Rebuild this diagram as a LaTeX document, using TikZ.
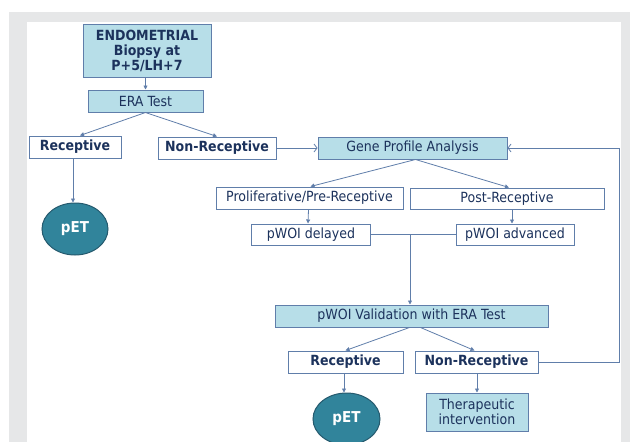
\documentclass[tikz,border=0pt]{standalone}
\usepackage{fontspec}
\setmainfont{DejaVu Sans Condensed}
\usepackage{tikz}
\usetikzlibrary{arrows.meta}
\usetikzlibrary{shapes.geometric}

\definecolor{bggray}{RGB}{230,231,232}
\definecolor{edge}{RGB}{96,126,170}
\definecolor{ink}{RGB}{28,50,92}
\definecolor{aqua}{RGB}{183,222,232}
\definecolor{teal}{RGB}{49,132,155}
\definecolor{tealdark}{RGB}{37,90,110}

\begin{document}
\begin{tikzpicture}[x=1pt, y=-1pt,
  box/.style={draw=edge, line width=1pt, inner sep=0pt, text=ink, align=center,
    font=\fontsize{14}{15}\selectfont},
  bluebox/.style={box, fill=aqua},
  whitebox/.style={box, fill=white},
  heavy/.style={font=\fontsize{14}{15}\selectfont\bfseries},
  oval/.style={ellipse, draw=tealdark, line width=1pt, fill=teal, text=white, inner sep=0pt,
    minimum width=66pt, minimum height=52pt, font=\fontsize{15}{15}\selectfont\bfseries},
  arr/.style={draw=edge, line width=0.8pt, -{Triangle[length=4pt,width=4pt]}},
  openarr/.style={draw=edge, line width=0.8pt, -{Straight Barb[length=3pt,width=8pt]}}]

\useasboundingbox (0,0) rectangle (630,442);
\fill[bggray] (9,12) rectangle (630,442);
\fill[white] (27,22) rectangle (621,442);

\node[bluebox, heavy, minimum width=128pt, minimum height=53pt] (endo) at (147,50.5) {ENDOMETRIAL\\Biopsy at\\P+5/LH+7};
\node[bluebox, minimum width=115pt, minimum height=22pt] (era) at (145.5,101) {ERA Test};
\node[whitebox, heavy, minimum width=92pt, minimum height=22pt] (recL) at (75,147) {Receptive};
\node[whitebox, heavy, minimum width=118pt, minimum height=22pt] (nonT) at (217,148) {Non-Receptive};
\node[oval] (petL) at (75,229) {pET};

\node[bluebox, minimum width=189pt, minimum height=22pt] (gene) at (412.5,148) {Gene Profile Analysis};
\node[whitebox, minimum width=187pt, minimum height=22pt] (prolif) at (309.5,198) {Proliferative/Pre-Receptive};
\node[whitebox, minimum width=194pt, minimum height=21pt] (post) at (507,198.5) {Post-Receptive};
\node[whitebox, minimum width=118.5pt, minimum height=21pt] (delayed) at (311,234.5) {pWOI delayed};
\node[whitebox, minimum width=118pt, minimum height=21pt] (advanced) at (515,234.5) {pWOI advanced};

\node[bluebox, minimum width=273pt, minimum height=22pt] (val) at (411.5,316) {pWOI Validation with ERA Test};
\node[whitebox, heavy, minimum width=115pt, minimum height=22pt] (recB) at (345.5,362) {Receptive};
\node[whitebox, heavy, minimum width=123pt, minimum height=22pt] (nonB) at (476.5,362) {Non-Receptive};
\node[oval, minimum width=67pt] (petB) at (346.5,419) {pET};
\node[bluebox, minimum width=102pt, minimum height=38pt] (therapy) at (477,412) {Therapeutic\\intervention};

\coordinate (join) at (410,234.5);
\coordinate (loop) at (619,148);

\draw[arr] (endo.south -| era.north) -- (era.north);
\draw[arr] (era.south) -- ([xshift=5pt]recL.north);
\draw[arr] (era.south) -- (nonT.north);
\draw[arr] ([xshift=-2pt]recL.south) -- ([xshift=-2pt]petL.north);
\draw[openarr] (nonT.east) -- (gene.west);

\draw[arr] ([xshift=3pt]gene.south) -- ([xshift=1pt]prolif.north);
\draw[arr] ([xshift=3pt]gene.south) -- ([xshift=2pt]post.north);
\draw[arr] ([xshift=-1pt]prolif.south) -- ([xshift=-3pt]delayed.north);
\draw[arr] ([xshift=-3pt]advanced.north |- post.south) -- ([xshift=-3pt]advanced.north);
\draw[edge, line width=0.8pt] (delayed.east) -- (advanced.west);
\draw[arr] (join) -- (join |- val.north);

\draw[arr] ([xshift=-2pt]val.south) -- (recB.north);
\draw[arr] ([xshift=9pt]val.south) -- ([xshift=-2pt]nonB.north);
\draw[arr] ([xshift=-1.5pt]recB.south) -- ([xshift=-2.5pt]petB.north);
\draw[arr] (nonB.south -| therapy.north) -- (therapy.north);
\draw[openarr] (nonB.east) -| (loop) -- (gene.east);

\end{tikzpicture}
\end{document}
